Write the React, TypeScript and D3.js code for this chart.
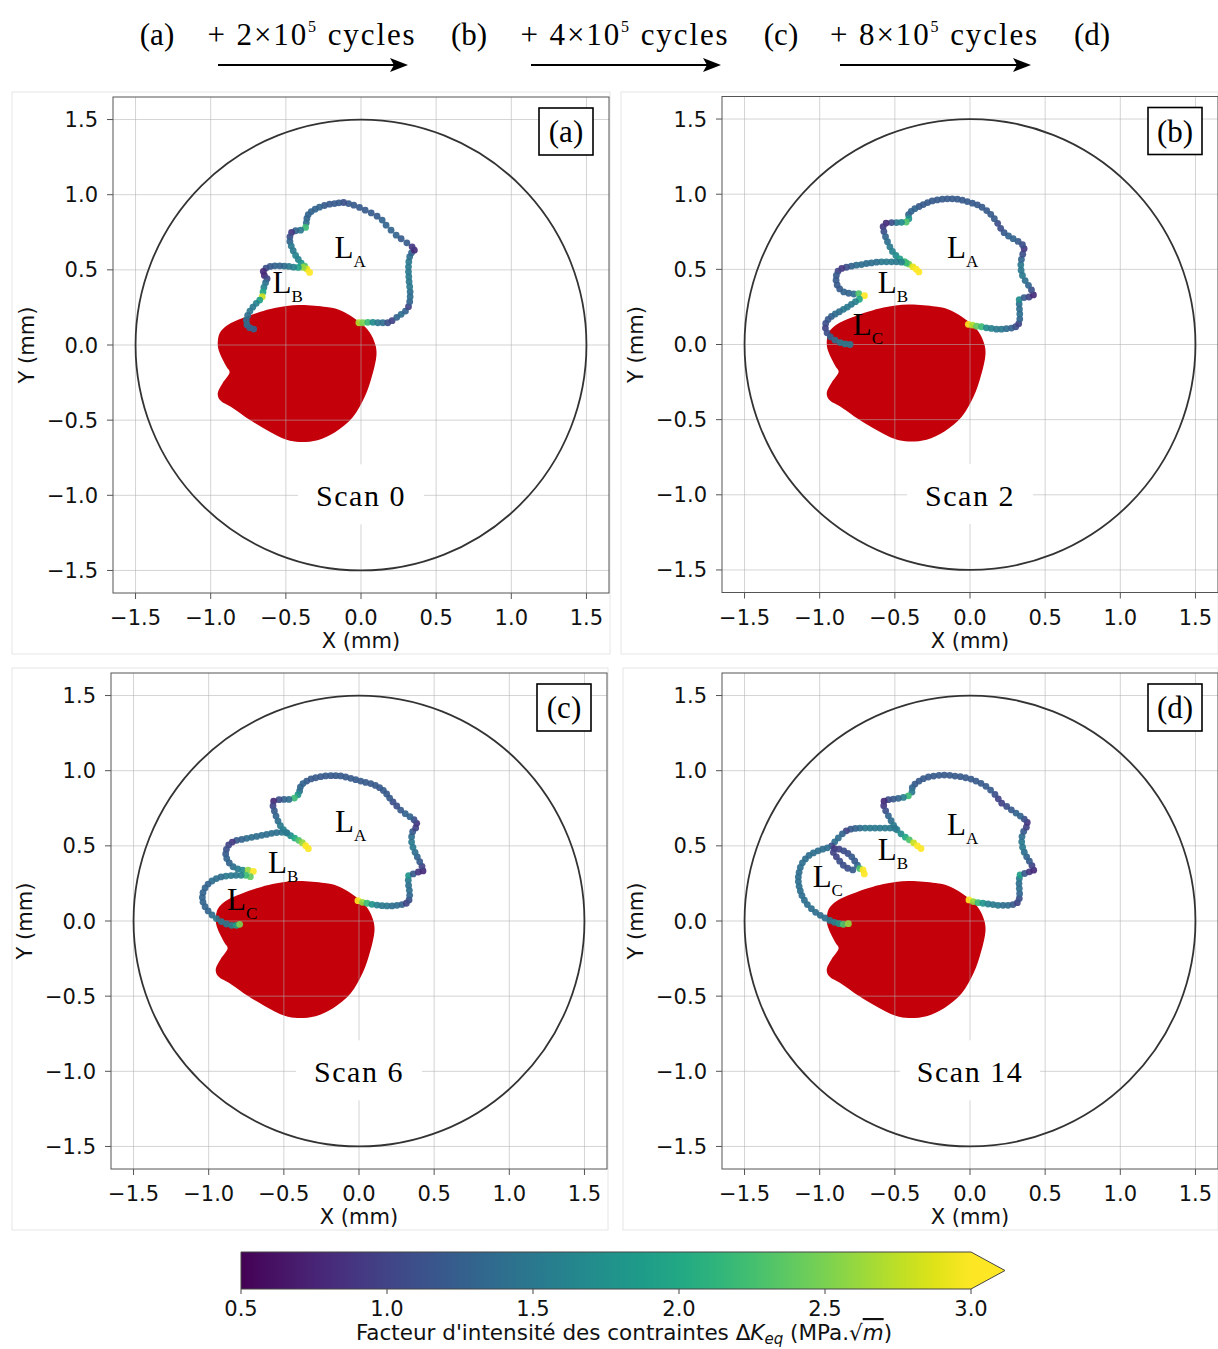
import React from 'react';
import * as d3 from 'd3';

type Pt = [number, number, number];

// ---------- data ----------
const AXIS_TICKS = [-1.5, -1.0, -0.5, 0.0, 0.5, 1.0, 1.5];
const AXIS_DOMAIN: [number, number] = [-1.65, 1.65];
const SPECIMEN_RADIUS = 1.5;
const CBAR_TICKS = [0.5, 1.0, 1.5, 2.0, 2.5, 3.0];
const K_RANGE: [number, number] = [0.5, 3.0];
const STEP_TAGS = ['(a)', '(b)', '(c)', '(d)'];
const STEP_CYCLES = ['2', '4', '8'];

// initial defect (red area), mm
const RED_SHAPE: [number, number][] = [
  [-0.41, 0.266], [-0.23, 0.252], [-0.143, 0.233], [-0.01, 0.153], [0.056, 0.086],
  [0.096, 0.0], [0.103, -0.066], [0.075, -0.2], [0.025, -0.345], [-0.055, -0.48],
  [-0.17, -0.578], [-0.289, -0.633], [-0.409, -0.645], [-0.495, -0.631], [-0.628, -0.565],
  [-0.741, -0.498], [-0.854, -0.419], [-0.94, -0.365], [-0.953, -0.319], [-0.92, -0.252],
  [-0.874, -0.179], [-0.894, -0.146], [-0.94, -0.053], [-0.953, 0.0], [-0.94, 0.08],
  [-0.887, 0.133], [-0.787, 0.179], [-0.674, 0.219], [-0.575, 0.246],
];

// Scan 0
const SCAN0_LA: Pt[] = [
  [-0.014, 0.148, 2.7], [0.012, 0.148, 2.5], [0.045, 0.151, 2.2], [0.079, 0.151, 1.7], [0.112, 0.148, 1.5],
  [0.145, 0.148, 1.4], [0.178, 0.148, 1.1], [0.207, 0.162, 1.0], [0.238, 0.184, 1.3], [0.267, 0.204, 1.4],
  [0.296, 0.226, 1.3], [0.316, 0.255, 1.0], [0.324, 0.288, 1.3], [0.327, 0.321, 1.4], [0.327, 0.354, 1.4],
  [0.324, 0.388, 1.5], [0.32, 0.421, 1.5], [0.318, 0.454, 1.5], [0.316, 0.487, 1.5], [0.316, 0.52, 1.5],
  [0.318, 0.554, 1.5], [0.324, 0.587, 1.4], [0.336, 0.613, 1.3], [0.355, 0.631, 0.8], [0.34, 0.653, 0.9],
  [0.305, 0.68, 1.2], [0.267, 0.707, 1.2], [0.234, 0.731, 1.3], [0.2, 0.764, 1.3], [0.167, 0.797, 1.3],
  [0.141, 0.831, 1.3], [0.107, 0.857, 1.2], [0.068, 0.879, 1.2], [0.028, 0.897, 1.2], [-0.01, 0.915, 1.2],
  [-0.048, 0.93, 1.2], [-0.083, 0.941, 1.2], [-0.116, 0.948, 1.1], [-0.147, 0.946, 1.2], [-0.176, 0.941, 1.2],
  [-0.209, 0.937, 1.2], [-0.243, 0.928, 1.2], [-0.276, 0.917, 1.3], [-0.305, 0.904, 1.3], [-0.331, 0.888, 1.3],
  [-0.351, 0.868, 1.3], [-0.36, 0.842, 1.3], [-0.364, 0.813, 1.4], [-0.369, 0.782, 2.2], [-0.402, 0.764, 1.5],
  [-0.435, 0.76, 1.3], [-0.462, 0.749, 0.9], [-0.473, 0.72, 1.1], [-0.473, 0.689, 1.3], [-0.464, 0.658, 1.5],
  [-0.451, 0.627, 1.5], [-0.435, 0.596, 1.6], [-0.417, 0.569, 1.6], [-0.398, 0.545, 1.8], [-0.375, 0.525, 2.3],
  [-0.36, 0.505, 2.9], [-0.342, 0.483, 3.0],
];
const SCAN0_LB: Pt[] = [
  [-0.386, 0.516, 2.6], [-0.417, 0.516, 1.9], [-0.449, 0.518, 1.6], [-0.48, 0.523, 1.5], [-0.511, 0.525, 1.4],
  [-0.541, 0.527, 1.3], [-0.573, 0.527, 1.3], [-0.604, 0.523, 1.2], [-0.632, 0.512, 1.1], [-0.65, 0.489, 0.8],
  [-0.643, 0.463, 0.8], [-0.625, 0.441, 1.0], [-0.635, 0.414, 1.4], [-0.646, 0.383, 1.6], [-0.652, 0.352, 2.0],
  [-0.657, 0.321, 2.8], [-0.674, 0.299, 1.9], [-0.697, 0.277, 1.6], [-0.719, 0.252, 1.5], [-0.739, 0.226, 1.5],
  [-0.754, 0.197, 1.4], [-0.763, 0.166, 1.4], [-0.759, 0.135, 1.4], [-0.741, 0.115, 1.3], [-0.714, 0.106, 1.3],
];

// Scan 2
const SCAN2_LA: Pt[] = [
  [-0.011, 0.134, 3.0], [0.016, 0.129, 2.7], [0.044, 0.122, 2.4], [0.076, 0.118, 2.2], [0.109, 0.111, 1.7],
  [0.142, 0.107, 1.6], [0.176, 0.102, 1.5], [0.209, 0.102, 1.5], [0.242, 0.105, 1.4], [0.276, 0.109, 1.3],
  [0.304, 0.118, 1.1], [0.324, 0.138, 1.0], [0.331, 0.169, 1.3], [0.331, 0.203, 1.4], [0.329, 0.236, 1.4],
  [0.327, 0.269, 1.4], [0.327, 0.298, 1.7], [0.36, 0.312, 1.2], [0.393, 0.316, 1.0], [0.422, 0.33, 0.8],
  [0.409, 0.363, 1.1], [0.389, 0.394, 1.3], [0.367, 0.425, 1.4], [0.349, 0.459, 1.5], [0.34, 0.494, 1.5],
  [0.338, 0.53, 1.5], [0.342, 0.566, 1.3], [0.351, 0.601, 1.1], [0.36, 0.637, 0.9], [0.349, 0.664, 1.1],
  [0.32, 0.686, 1.2], [0.287, 0.704, 1.3], [0.256, 0.722, 1.3], [0.227, 0.744, 1.2], [0.204, 0.773, 1.1],
  [0.184, 0.806, 1.1], [0.162, 0.837, 1.2], [0.138, 0.866, 1.2], [0.111, 0.891, 1.2], [0.08, 0.913, 1.2],
  [0.049, 0.929, 1.2], [0.016, 0.94, 1.2], [-0.018, 0.951, 1.2], [-0.051, 0.96, 1.2], [-0.084, 0.967, 1.2],
  [-0.118, 0.969, 1.2], [-0.151, 0.969, 1.2], [-0.184, 0.967, 1.2], [-0.218, 0.962, 1.2], [-0.251, 0.955, 1.2],
  [-0.282, 0.944, 1.2], [-0.311, 0.931, 1.2], [-0.338, 0.918, 1.2], [-0.367, 0.904, 1.3], [-0.391, 0.886, 1.3],
  [-0.409, 0.864, 1.3], [-0.407, 0.837, 1.8], [-0.424, 0.815, 2.3], [-0.456, 0.813, 1.7], [-0.489, 0.811, 1.5],
  [-0.522, 0.811, 1.1], [-0.558, 0.808, 0.8], [-0.578, 0.784, 0.9], [-0.573, 0.751, 1.1], [-0.562, 0.717, 1.3],
  [-0.549, 0.684, 1.4], [-0.533, 0.65, 1.5], [-0.516, 0.619, 1.6], [-0.493, 0.592, 1.7], [-0.467, 0.57, 1.9],
  [-0.436, 0.552, 2.2], [-0.407, 0.535, 2.5], [-0.38, 0.517, 2.9], [-0.358, 0.501, 3.0], [-0.34, 0.483, 3.0],
];
const SCAN2_LB: Pt[] = [
  [-0.424, 0.543, 2.2], [-0.456, 0.548, 1.6], [-0.489, 0.55, 1.5], [-0.522, 0.55, 1.5], [-0.556, 0.55, 1.5],
  [-0.589, 0.55, 1.5], [-0.622, 0.548, 1.4], [-0.656, 0.543, 1.4], [-0.689, 0.539, 1.4], [-0.722, 0.532, 1.4],
  [-0.756, 0.528, 1.4], [-0.789, 0.521, 1.3], [-0.822, 0.514, 1.1], [-0.853, 0.506, 0.9], [-0.878, 0.488, 1.0],
  [-0.889, 0.459, 1.2], [-0.891, 0.428, 1.2], [-0.884, 0.396, 1.2], [-0.867, 0.37, 1.2], [-0.84, 0.35, 1.3],
  [-0.807, 0.341, 1.3], [-0.773, 0.336, 1.4], [-0.74, 0.339, 2.3], [-0.702, 0.325, 3.0],
];
const SCAN2_LC: Pt[] = [
  [-0.736, 0.301, 2.0], [-0.762, 0.285, 1.6], [-0.789, 0.267, 1.5], [-0.816, 0.249, 1.5], [-0.842, 0.234, 1.5],
  [-0.869, 0.218, 1.4], [-0.896, 0.203, 1.4], [-0.922, 0.187, 1.3], [-0.944, 0.167, 1.2], [-0.96, 0.14, 1.1],
  [-0.962, 0.109, 1.0], [-0.951, 0.078, 1.1], [-0.929, 0.051, 1.3], [-0.898, 0.029, 1.4], [-0.864, 0.013, 1.5],
  [-0.831, 0.004, 1.5], [-0.798, 0.0, 1.5],
];

// Scan 6
const SCAN6_LA: Pt[] = [
  [-0.007, 0.135, 3.0], [0.022, 0.124, 2.6], [0.053, 0.118, 2.2], [0.086, 0.111, 1.8], [0.12, 0.106, 1.6],
  [0.153, 0.102, 1.5], [0.186, 0.1, 1.5], [0.22, 0.1, 1.4], [0.253, 0.104, 1.4], [0.286, 0.109, 1.3],
  [0.315, 0.118, 1.0], [0.333, 0.14, 1.1], [0.337, 0.171, 1.3], [0.335, 0.204, 1.4], [0.33, 0.237, 1.4],
  [0.328, 0.271, 1.5], [0.33, 0.302, 1.8], [0.361, 0.313, 1.2], [0.395, 0.326, 0.9], [0.426, 0.333, 0.8],
  [0.419, 0.364, 1.0], [0.404, 0.395, 1.2], [0.388, 0.426, 1.3], [0.373, 0.457, 1.4], [0.359, 0.49, 1.5],
  [0.35, 0.525, 1.5], [0.35, 0.561, 1.4], [0.357, 0.594, 1.2], [0.377, 0.619, 1.0], [0.384, 0.65, 0.9],
  [0.366, 0.674, 1.1], [0.339, 0.694, 1.3], [0.308, 0.714, 1.3], [0.277, 0.738, 1.2], [0.251, 0.765, 1.1],
  [0.226, 0.792, 1.1], [0.204, 0.818, 1.2], [0.184, 0.845, 1.2], [0.162, 0.869, 1.2], [0.137, 0.887, 1.2],
  [0.109, 0.902, 1.2], [0.078, 0.914, 1.2], [0.044, 0.922, 1.2], [0.011, 0.931, 1.2], [-0.022, 0.94, 1.2],
  [-0.055, 0.949, 1.2], [-0.089, 0.958, 1.2], [-0.122, 0.965, 1.2], [-0.155, 0.967, 1.2], [-0.188, 0.967, 1.2],
  [-0.222, 0.965, 1.2], [-0.255, 0.96, 1.2], [-0.288, 0.953, 1.2], [-0.319, 0.945, 1.2], [-0.348, 0.931, 1.2],
  [-0.373, 0.914, 1.3], [-0.39, 0.891, 1.3], [-0.395, 0.865, 1.4], [-0.406, 0.84, 1.8], [-0.43, 0.818, 2.2],
  [-0.466, 0.809, 1.4], [-0.499, 0.809, 1.3], [-0.532, 0.807, 1.1], [-0.568, 0.798, 0.8], [-0.572, 0.765, 1.0],
  [-0.563, 0.732, 1.2], [-0.552, 0.698, 1.3], [-0.539, 0.665, 1.4], [-0.523, 0.634, 1.5], [-0.503, 0.608, 1.6],
  [-0.479, 0.585, 1.6], [-0.455, 0.568, 1.7], [-0.428, 0.552, 2.0], [-0.401, 0.537, 2.3], [-0.377, 0.521, 2.6],
  [-0.355, 0.501, 3.0], [-0.337, 0.481, 3.0],
];
const SCAN6_LB: Pt[] = [
  [-0.483, 0.588, 1.5], [-0.514, 0.59, 1.5], [-0.548, 0.588, 1.4], [-0.581, 0.583, 1.4], [-0.614, 0.576, 1.4],
  [-0.647, 0.57, 1.4], [-0.681, 0.563, 1.4], [-0.714, 0.557, 1.4], [-0.747, 0.55, 1.4], [-0.78, 0.543, 1.3],
  [-0.814, 0.537, 1.2], [-0.843, 0.525, 0.9], [-0.867, 0.506, 1.0], [-0.882, 0.477, 1.1], [-0.887, 0.446, 1.2],
  [-0.88, 0.415, 1.3], [-0.863, 0.386, 1.3], [-0.838, 0.361, 1.4], [-0.807, 0.346, 1.5], [-0.774, 0.339, 1.7],
  [-0.738, 0.339, 2.6], [-0.703, 0.33, 3.0], [-0.723, 0.295, 2.4],
];
const SCAN6_LC: Pt[] = [
  [-0.754, 0.304, 2.2], [-0.785, 0.304, 1.6], [-0.818, 0.304, 1.5], [-0.851, 0.302, 1.5], [-0.885, 0.299, 1.5],
  [-0.918, 0.293, 1.4], [-0.949, 0.282, 1.4], [-0.978, 0.266, 1.4], [-1.004, 0.246, 1.3], [-1.024, 0.22, 1.3],
  [-1.038, 0.188, 1.3], [-1.042, 0.157, 1.3], [-1.038, 0.126, 1.3], [-1.024, 0.095, 1.3], [-1.004, 0.067, 1.3],
  [-0.978, 0.04, 1.4], [-0.949, 0.016, 1.5], [-0.916, -0.004, 1.5], [-0.882, -0.02, 1.5], [-0.847, -0.029, 1.6],
  [-0.816, -0.029, 1.9], [-0.794, -0.022, 2.5],
];

// Scan 14
const SCAN14_LA: Pt[] = [
  [-0.007, 0.14, 3.0], [0.022, 0.129, 2.6], [0.053, 0.122, 2.2], [0.086, 0.118, 1.8], [0.12, 0.113, 1.6],
  [0.153, 0.109, 1.5], [0.186, 0.104, 1.5], [0.22, 0.104, 1.4], [0.253, 0.104, 1.4], [0.286, 0.109, 1.2],
  [0.315, 0.122, 1.0], [0.328, 0.149, 1.1], [0.33, 0.182, 1.3], [0.328, 0.216, 1.4], [0.326, 0.249, 1.4],
  [0.328, 0.282, 1.5], [0.333, 0.307, 1.9], [0.364, 0.316, 1.2], [0.395, 0.327, 0.9], [0.424, 0.338, 0.8],
  [0.412, 0.369, 1.0], [0.395, 0.398, 1.2], [0.377, 0.427, 1.3], [0.361, 0.458, 1.4], [0.35, 0.491, 1.5],
  [0.344, 0.527, 1.5], [0.346, 0.562, 1.4], [0.357, 0.596, 1.2], [0.375, 0.624, 1.0], [0.381, 0.656, 0.9],
  [0.361, 0.678, 1.1], [0.335, 0.698, 1.3], [0.306, 0.718, 1.3], [0.275, 0.74, 1.2], [0.244, 0.762, 1.1],
  [0.211, 0.784, 1.0], [0.188, 0.813, 1.0], [0.166, 0.842, 1.1], [0.137, 0.871, 1.2], [0.106, 0.896, 1.2],
  [0.073, 0.916, 1.2], [0.04, 0.931, 1.2], [0.007, 0.944, 1.2], [-0.029, 0.953, 1.2], [-0.064, 0.96, 1.2],
  [-0.1, 0.964, 1.2], [-0.135, 0.969, 1.2], [-0.171, 0.971, 1.2], [-0.206, 0.969, 1.2], [-0.242, 0.964, 1.2],
  [-0.277, 0.958, 1.2], [-0.31, 0.947, 1.2], [-0.339, 0.931, 1.2], [-0.366, 0.911, 1.2], [-0.384, 0.887, 1.3],
  [-0.386, 0.858, 1.5], [-0.41, 0.833, 2.2], [-0.443, 0.822, 1.6], [-0.477, 0.816, 1.3], [-0.51, 0.811, 1.2],
  [-0.543, 0.807, 1.1], [-0.572, 0.798, 0.8], [-0.574, 0.767, 0.9], [-0.561, 0.733, 1.1], [-0.543, 0.7, 1.3],
  [-0.525, 0.667, 1.4], [-0.508, 0.636, 1.5], [-0.486, 0.607, 1.6], [-0.459, 0.58, 1.7], [-0.43, 0.558, 2.0],
  [-0.404, 0.54, 2.3], [-0.375, 0.52, 2.8], [-0.35, 0.5, 3.0], [-0.326, 0.482, 3.0],
];
const SCAN14_LB: Pt[] = [
  [-0.499, 0.616, 1.5], [-0.532, 0.618, 1.5], [-0.565, 0.618, 1.5], [-0.599, 0.618, 1.5], [-0.632, 0.618, 1.5],
  [-0.665, 0.618, 1.5], [-0.698, 0.618, 1.5], [-0.732, 0.618, 1.4], [-0.763, 0.616, 1.3], [-0.794, 0.611, 1.2],
  [-0.823, 0.6, 1.0], [-0.849, 0.58, 1.3], [-0.876, 0.553, 1.4], [-0.9, 0.527, 1.4], [-0.92, 0.5, 1.1],
  [-0.902, 0.482, 0.9], [-0.871, 0.478, 1.0], [-0.84, 0.467, 1.1], [-0.812, 0.449, 1.1], [-0.787, 0.427, 1.2],
  [-0.767, 0.4, 1.2], [-0.749, 0.371, 1.3], [-0.734, 0.349, 2.3], [-0.712, 0.34, 3.0], [-0.703, 0.313, 3.0],
  [-0.909, 0.456, 1.0], [-0.889, 0.427, 1.0], [-0.867, 0.398, 1.1], [-0.843, 0.371, 1.1], [-0.814, 0.351, 1.1],
  [-0.78, 0.34, 1.2],
];
const SCAN14_LC: Pt[] = [
  [-0.949, 0.487, 1.4], [-0.98, 0.478, 1.4], [-1.011, 0.467, 1.4], [-1.042, 0.453, 1.4], [-1.071, 0.436, 1.4],
  [-1.095, 0.413, 1.4], [-1.115, 0.387, 1.4], [-1.129, 0.356, 1.4], [-1.137, 0.324, 1.4], [-1.142, 0.293, 1.4],
  [-1.142, 0.262, 1.4], [-1.137, 0.231, 1.4], [-1.129, 0.2, 1.4], [-1.118, 0.169, 1.4], [-1.102, 0.138, 1.4],
  [-1.082, 0.109, 1.4], [-1.055, 0.082, 1.4], [-1.027, 0.058, 1.4], [-0.996, 0.038, 1.4], [-0.965, 0.02, 1.4],
  [-0.933, 0.004, 1.5], [-0.902, -0.009, 1.6], [-0.871, -0.018, 1.8], [-0.843, -0.022, 2.3], [-0.809, -0.018, 2.6],
];

type Lbl = { sub: string; x: number; y: number };
const SCAN0_LABELS: Lbl[] = [{ sub: 'A', x: -0.176, y: 0.578 }, { sub: 'B', x: -0.588, y: 0.346 }];
const SCAN2_LABELS: Lbl[] = [{ sub: 'A', x: -0.153, y: 0.575 }, { sub: 'B', x: -0.613, y: 0.343 }, { sub: 'C', x: -0.78, y: 0.063 }];
const SCAN6_LABELS: Lbl[] = [{ sub: 'A', x: -0.16, y: 0.594 }, { sub: 'B', x: -0.605, y: 0.319 }, { sub: 'C', x: -0.878, y: 0.073 }];
const SCAN14_LABELS: Lbl[] = [{ sub: 'A', x: -0.153, y: 0.571 }, { sub: 'B', x: -0.613, y: 0.405 }, { sub: 'C', x: -1.047, y: 0.226 }];

// ---------- layout ----------
const W = 1218;
const H = 1349;
const SANS = 'DejaVu Sans, sans-serif';
const SERIF = 'Liberation Serif, DejaVu Serif, serif';

const PANELS = [
  { tag: '(a)', scan: 'Scan 0', fronts: [SCAN0_LA, SCAN0_LB], labels: SCAN0_LABELS, frame: [12, 92, 610, 654], left: 113, top: 97 },
  { tag: '(b)', scan: 'Scan 2', fronts: [SCAN2_LA, SCAN2_LB, SCAN2_LC], labels: SCAN2_LABELS, frame: [621, 92, 1218, 654], left: 722, top: 96.5 },
  { tag: '(c)', scan: 'Scan 6', fronts: [SCAN6_LA, SCAN6_LB, SCAN6_LC], labels: SCAN6_LABELS, frame: [12, 668, 608, 1230], left: 111, top: 673 },
  { tag: '(d)', scan: 'Scan 14', fronts: [SCAN14_LA, SCAN14_LB, SCAN14_LC], labels: SCAN14_LABELS, frame: [623, 668, 1218, 1230], left: 722, top: 673 },
];
const AX_SIZE = 496;

const kNorm = d3.scaleLinear().domain(K_RANGE).range([0, 1]).clamp(true);
const kColor = (k: number) => d3.interpolateViridis(kNorm(k));
const fmt = (v: number) => (v < 0 ? '\u2212' : '') + Math.abs(v).toFixed(1);

function Panel({ p }: { p: (typeof PANELS)[number] }) {
  const x = d3.scaleLinear().domain(AXIS_DOMAIN).range([p.left, p.left + AX_SIZE]);
  const y = d3.scaleLinear().domain(AXIS_DOMAIN).range([p.top + AX_SIZE, p.top]);
  const shapePath = d3
    .line<[number, number]>()
    .x((d) => x(d[0]))
    .y((d) => y(d[1]))
    .curve(d3.curveCatmullRomClosed.alpha(0.5))(RED_SHAPE) as string;
  const [fx0, fy0, fx1, fy1] = p.frame;
  const r = x(SPECIMEN_RADIUS) - x(0);
  const right = p.left + AX_SIZE;
  const bottom = p.top + AX_SIZE;
  const scanW = p.scan.length > 6 ? 140 : 126;
  const clipId = 'clip' + p.tag.replace(/[()]/g, '');
  return (
    <g>
      <rect x={fx0} y={fy0} width={fx1 - fx0} height={fy1 - fy0} fill="#fff" stroke="#e6e6e6" strokeWidth={1} />
      <clipPath id={clipId}>
        <rect x={p.left} y={p.top} width={AX_SIZE} height={AX_SIZE} />
      </clipPath>
      <g clipPath={`url(#${clipId})`}>
        <path d={shapePath} fill="#c4000b" />
        {AXIS_TICKS.map((t) => (
          <g key={'g' + t}>
            <line x1={x(t)} x2={x(t)} y1={p.top} y2={bottom} stroke="#b0b0b0" strokeOpacity={0.55} strokeWidth={1} />
            <line x1={p.left} x2={right} y1={y(t)} y2={y(t)} stroke="#b0b0b0" strokeOpacity={0.55} strokeWidth={1} />
          </g>
        ))}
        <circle cx={x(0)} cy={y(0)} r={r} fill="none" stroke="#333" strokeWidth={1.8} />
        {p.fronts.map((f, i) =>
          f.map((d, j) => (
            <circle key={i + '-' + j} cx={x(d[0])} cy={y(d[1])} r={3.4} fill={kColor(d[2])} fillOpacity={0.92} />
          ))
        )}
        {p.labels.map((l) => (
          <text key={l.sub} x={x(l.x)} y={y(l.y)} fontFamily={SERIF} fontSize={31} fill="#000">
            L<tspan fontSize={17} dy={9}>{l.sub}</tspan>
          </text>
        ))}
        <rect x={x(0) - scanW / 2} y={y(-1.0) - 31} width={scanW} height={60} fill="#fff" />
        <text x={x(0)} y={y(-1.0) + 11} textAnchor="middle" fontFamily={SERIF} fontSize={30} letterSpacing={1.5} fill="#000">
          {p.scan}
        </text>
        <rect x={right - 70} y={p.top + 11} width={54} height={47} fill="#fff" stroke="#000" strokeWidth={1.6} />
        <text x={right - 43} y={p.top + 45} textAnchor="middle" fontFamily={SERIF} fontSize={31} fill="#000">
          {p.tag}
        </text>
      </g>
      <rect x={p.left} y={p.top} width={AX_SIZE} height={AX_SIZE} fill="none" stroke="#555" strokeWidth={1} />
      {AXIS_TICKS.map((t) => (
        <g key={'t' + t} fontFamily={SANS} fontSize={21} fill="#111">
          <line x1={x(t)} x2={x(t)} y1={bottom} y2={bottom + 6} stroke="#555" />
          <text x={x(t)} y={bottom + 32} textAnchor="middle">{fmt(t)}</text>
          <line x1={p.left - 6} x2={p.left} y1={y(t)} y2={y(t)} stroke="#555" />
          <text x={p.left - 15} y={y(t) + 7.5} textAnchor="end">{fmt(t)}</text>
        </g>
      ))}
      <text x={x(0)} y={bottom + 55} textAnchor="middle" fontFamily={SANS} fontSize={21} fill="#111">X (mm)</text>
      <text transform={`translate(${p.left - 79},${y(0)}) rotate(-90)`} textAnchor="middle" fontFamily={SANS} fontSize={21} fill="#111">
        Y (mm)
      </text>
    </g>
  );
}

function Header() {
  const tagX = [157, 469, 781, 1092];
  const arrows = [
    [218, 408],
    [531, 721],
    [840, 1031],
  ];
  return (
    <g fontFamily={SERIF} fill="#000">
      {STEP_TAGS.map((t, i) => (
        <text key={t} x={tagX[i]} y={45} textAnchor="middle" fontSize={31}>{t}</text>
      ))}
      {STEP_CYCLES.map((c, i) => {
        const [a0, a1] = arrows[i];
        return (
          <g key={c}>
            <text x={(a0 + a1) / 2 - 1} y={45} textAnchor="middle" fontSize={31} letterSpacing={1.9}>
              + {c}×10<tspan fontSize={16} dy={-13}>5</tspan>
              <tspan dy={13}> cycles</tspan>
            </text>
            <line x1={a0} x2={a1 - 14} y1={65} y2={65} stroke="#000" strokeWidth={2.2} />
            <path d={`M${a1},65 L${a1 - 18},58 L${a1 - 14},65 L${a1 - 18},72 Z`} fill="#000" />
          </g>
        );
      })}
    </g>
  );
}

function Colorbar() {
  const cx = d3.scaleLinear().domain(K_RANGE).range([241, 971]);
  const y0 = 1252;
  const y1 = 1289;
  const stops = d3.range(0, 1.0001, 0.05);
  const tipX = 1005;
  return (
    <g>
      <defs>
        <linearGradient id="viridisGrad" x1="0" x2="1" y1="0" y2="0">
          {stops.map((s) => (
            <stop key={s} offset={s} stopColor={d3.interpolateViridis(s)} />
          ))}
        </linearGradient>
      </defs>
      <rect x={cx(K_RANGE[0])} y={y0} width={cx(K_RANGE[1]) - cx(K_RANGE[0])} height={y1 - y0} fill="url(#viridisGrad)" />
      <path d={`M${cx(K_RANGE[1])},${y0} L${tipX},${(y0 + y1) / 2} L${cx(K_RANGE[1])},${y1} Z`} fill={d3.interpolateViridis(1)} />
      <path
        d={`M${cx(K_RANGE[0])},${y0} L${cx(K_RANGE[1])},${y0} L${tipX},${(y0 + y1) / 2} L${cx(K_RANGE[1])},${y1} L${cx(K_RANGE[0])},${y1} Z`}
        fill="none"
        stroke="#444"
        strokeWidth={1}
      />
      {CBAR_TICKS.map((t) => (
        <g key={t}>
          <line x1={cx(t)} x2={cx(t)} y1={y1} y2={y1 + 5} stroke="#444" />
          <text x={cx(t)} y={y1 + 27} textAnchor="middle" fontFamily={SANS} fontSize={21} fill="#111">
            {t.toFixed(1)}
          </text>
        </g>
      ))}
      <text x={624} y={1340} textAnchor="middle" fontFamily={SANS} fontSize={21.5} fill="#111">
        Facteur d'intensité des contraintes Δ<tspan fontStyle="italic">K</tspan>
        <tspan fontStyle="italic" fontSize={15} dy={4}>eq</tspan>
        <tspan dy={-4}> (MPa.√</tspan>
        <tspan fontStyle="italic" textDecoration="overline">m</tspan>
        <tspan>)</tspan>
      </text>
    </g>
  );
}

export default function App() {
  return (
    <svg width={W} height={H} viewBox={`0 0 ${W} ${H}`} style={{ position: 'absolute', left: 0, top: 0, background: '#fff' }}>
      <rect x={0} y={0} width={W} height={H} fill="#fff" />
      <Header />
      {PANELS.map((p) => (
        <Panel key={p.tag} p={p} />
      ))}
      <Colorbar />
    </svg>
  );
}
